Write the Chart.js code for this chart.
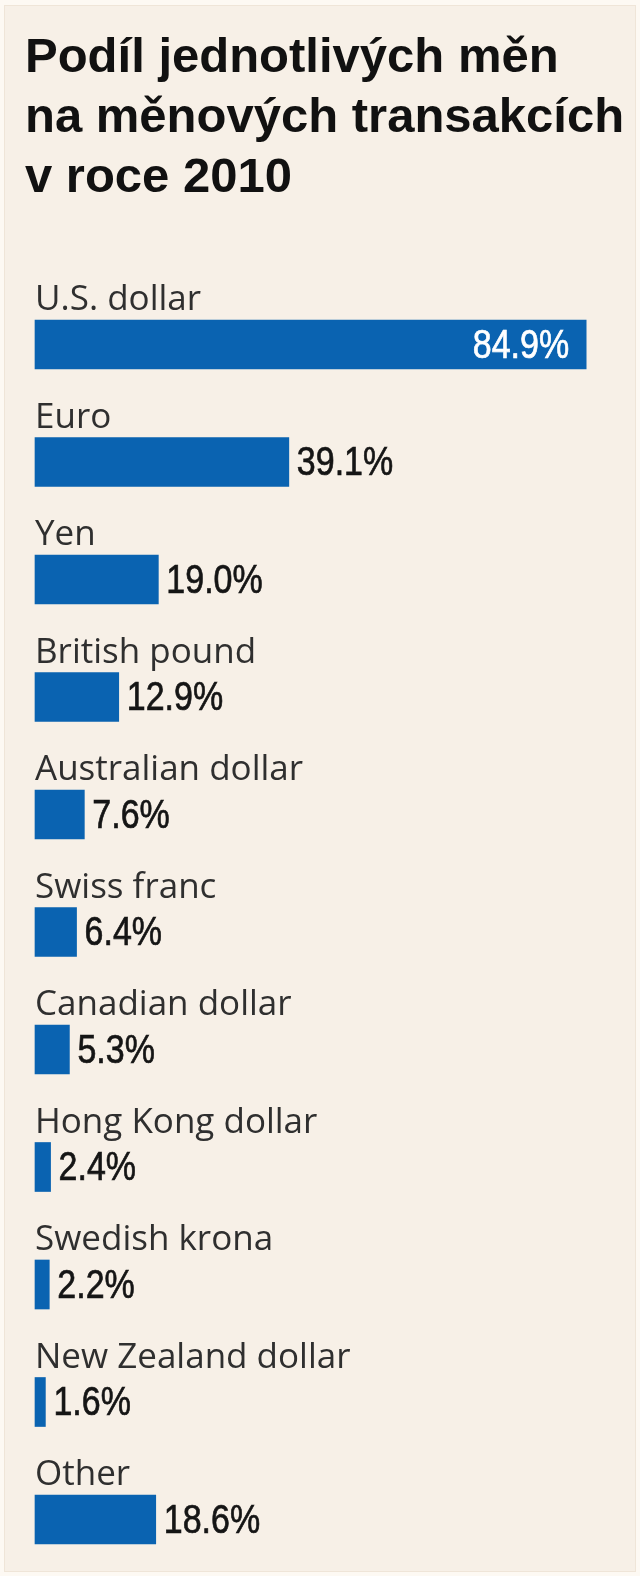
<!DOCTYPE html>
<html>
<head>
<meta charset="utf-8">
<script src="https://cdn.jsdelivr.net/npm/chart.js@4.4.1/dist/chart.umd.min.js"></script>
<style>
  html, body { margin: 0; padding: 0; }
  body { width: 640px; height: 1576px; background: #fdf9f3; position: relative; overflow: hidden; }
  .panel { position: absolute; left: 4px; top: 5px; width: 630px; height: 1565px; background: #f7f0e7; border: 1px solid #efe5d8; }
  h1 { position: absolute; left: 25px; top: 25px; margin: 0; font: bold 49px/60px "Liberation Sans", Arial, sans-serif; color: #111; }
  canvas { position: absolute; left: 0; top: 0; }
</style>
</head>
<body>
<div class="panel"></div>
<h1>Podíl jednotlivých měn<br>na měnových transakcích<br>v roce 2010</h1>
<canvas id="chart" width="640" height="1576"></canvas>
<script>
// Data
const currencies = ['U.S. dollar', 'Euro', 'Yen', 'British pound', 'Australian dollar', 'Swiss franc',
  'Canadian dollar', 'Hong Kong dollar', 'Swedish krona', 'New Zealand dollar', 'Other'];
const shares = [84.9, 39.1, 19.0, 12.9, 7.6, 6.4, 5.3, 2.4, 2.2, 1.6, 18.6];

const barColor = '#0a63b1';

// category name above each bar, percentage after it (inside for the long one)
const barLabels = {
  id: 'barLabels',
  afterDatasetsDraw(chart) {
    const ctx = chart.ctx;
    const meta = chart.getDatasetMeta(0);
    meta.data.forEach((bar, i) => {
      const top = bar.y - bar.height / 2;
      ctx.save();
      ctx.font = '35px "Open Sans", sans-serif';
      ctx.fillStyle = '#2f2f2f';
      ctx.textAlign = 'left';
      ctx.textBaseline = 'alphabetic';
      ctx.fillText(currencies[i], bar.base, top - 10);
      ctx.restore();

      const txt = shares[i].toFixed(1) + '%';
      const inside = (bar.x - bar.base) > 300;
      ctx.save();
      ctx.font = '40px "Liberation Sans", Arial, sans-serif';
      ctx.textBaseline = 'alphabetic';
      ctx.fillStyle = inside ? '#ffffff' : '#151515';
      ctx.strokeStyle = ctx.fillStyle;
      ctx.lineWidth = 0.7;
      ctx.translate(inside ? bar.x - 17 : bar.x + 8, bar.y + 13);
      ctx.scale(0.85, 1);
      ctx.textAlign = inside ? 'right' : 'left';
      ctx.fillText(txt, 0, 0);
      ctx.strokeText(txt, 0, 0);
      ctx.restore();
    });
  }
};

new Chart(document.getElementById('chart'), {
  type: 'bar',
  data: {
    labels: currencies,
    datasets: [{
      data: shares,
      backgroundColor: barColor,
      barThickness: 49,
      clip: false
    }]
  },
  options: {
    indexAxis: 'y',
    responsive: false,
    animation: false,
    layout: { padding: { left: 35, right: 35, top: 344.5, bottom: 56.5 } },
    scales: {
      x: { type: 'linear', min: 0, max: 87.8, display: false },
      y: { type: 'category', offset: false, display: false }
    },
    plugins: {
      legend: { display: false },
      tooltip: { enabled: false }
    }
  },
  plugins: [barLabels]
});
</script>
</body>
</html>
